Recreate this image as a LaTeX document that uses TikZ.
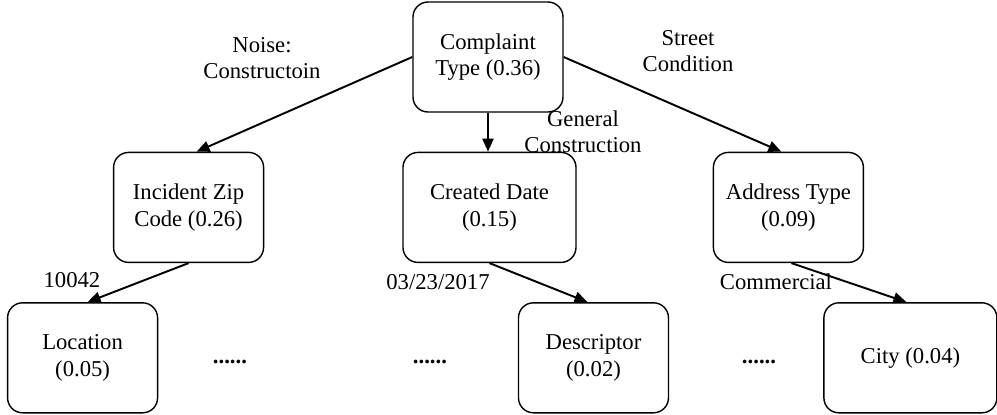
\documentclass[tikz,border=0pt]{standalone}
\usepackage{fontspec}
\setmainfont{Liberation Serif}
\usetikzlibrary{positioning, arrows.meta}

\begin{document}
\begin{tikzpicture}[
        feature_node/.style={rectangle, rounded corners=3mm, draw=black, line width=0.8pt, fill=white, align=center, minimum width=30mm, minimum height=22mm, font=\fontsize{12.9}{15}\selectfont},
        wide_node/.style={feature_node, minimum width=34.6mm},
        branch/.style={black, line width=1.1pt, -{Triangle[length=2.6mm, width=2.2mm]}},
        branch_label/.style={align=center, font=\fontsize{12.9}{15}\selectfont},
        more_dots/.style={font=\fontsize{12.9}{15}\selectfont\bfseries}
        ]
            % fixes the margins
            \useasboundingbox (-9.76,1.14) rectangle (10.18,-7.14);

            % root
            \node[feature_node]    (complaint)                                                 {Complaint\\Type (0.36)};
            % second level
            \node[feature_node]    (zip)       [below left  = 7.8mm and 29.6mm of complaint]    {Incident Zip\\Code (0.26)};
            \node[wide_node]       (created)   [below       = 7.8mm of complaint, xshift=0.3mm] {Created Date\\(0.15)};
            \node[feature_node]    (address)   [below right = 7.8mm and 29.8mm of complaint]    {Address Type\\(0.09)};
            % third level
            \node[feature_node]    (location)  [below = 7.8mm of zip, xshift=-21.2mm]           {Location\\(0.05)};
            \node[feature_node]    (descr)     [below = 7.8mm of created, xshift=20.8mm]        {Descriptor\\(0.02)};
            \node[wide_node]       (city)      [below = 7.8mm of address, xshift=24.4mm]        {City (0.04)};

            % Lines
            \draw[branch] (complaint.west)  -- ([xshift=1.6mm]zip.north);
            \draw[branch] (complaint.south) -- (created.north -| complaint.south);
            \draw[branch] (complaint.east)  -- ([xshift=-1.4mm]address.north);
            \draw[branch] (zip.south)       -- ([xshift=1mm]location.north);
            \draw[branch] (created.south)   -- ([xshift=-1.2mm]descr.north);
            \draw[branch] ([xshift=0.6mm]address.south) -- ([xshift=-0.8mm]city.north);

            % text
            \node[branch_label] (noise_lbl)   at (-4.52,-0.02) {Noise:\\Constructoin};
            \node[branch_label] (general_lbl) at (1.90,-1.49)  {General\\Construction};
            \node[branch_label] (street_lbl)  at (4.00,0.12)   {Street\\Condition};
            \node[branch_label] (zip_lbl)     at (-8.32,-4.46) {10042};
            \node[branch_label] (date_lbl)    at (-1.00,-4.50) {03/23/2017};
            \node[branch_label] (comm_lbl)    at (5.76,-4.50)  {Commercial};
            % omitted branches
            \node[more_dots] (dots_1) at (-5.16,-6.10) {......};
            \node[more_dots] (dots_2) at (-1.16,-6.10) {......};
            \node[more_dots] (dots_3) at (5.42,-6.10)  {......};
        \end{tikzpicture}
\end{document}
